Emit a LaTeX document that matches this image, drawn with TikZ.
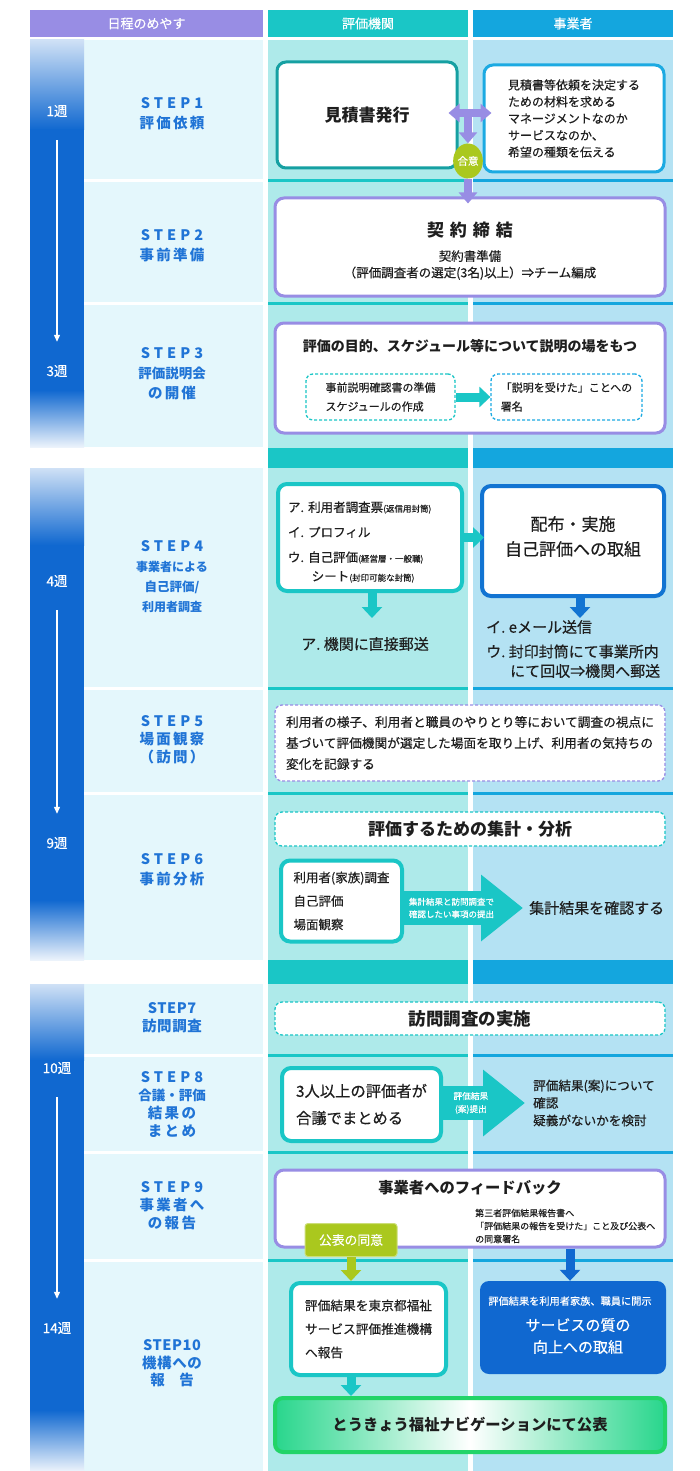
\documentclass[tikz,border=0pt]{standalone}
\usepackage{fontspec}
\setmainfont{Noto Sans CJK JP}[UprightFeatures={FakeBold=0.4}]
\newfontfamily\steplat[LetterSpace=28]{Noto Sans CJK JP}
\newfontfamily\stepsp[LetterSpace=15]{Noto Sans CJK JP}
\newfontfamily\stepmid[LetterSpace=4]{Noto Sans CJK JP}
\usetikzlibrary{arrows.meta,positioning,shapes.geometric}
\newcommand{\jpsize}[2]{\fontsize{#1}{#2}\selectfont}
\definecolor{schedpurple}{RGB}{152,141,228}
\definecolor{agencyteal}{RGB}{26,198,198}
\definecolor{bizblue}{RGB}{20,166,222}
\definecolor{labelbg}{RGB}{228,247,252}
\definecolor{agencybg}{RGB}{174,234,234}
\definecolor{bizbg}{RGB}{180,226,243}
\definecolor{weekblue}{RGB}{16,104,208}
\definecolor{stepblue}{RGB}{32,116,214}
\definecolor{quoteteal}{RGB}{22,160,162}
\definecolor{reqblue}{RGB}{28,170,226}
\definecolor{doblue}{RGB}{18,116,210}
\definecolor{consentgreen}{RGB}{170,200,30}
\definecolor{navigreen}{RGB}{34,212,104}
\definecolor{navifill}{RGB}{40,214,140}
\definecolor{textdark}{RGB}{30,30,30}

\begin{document}
\begin{tikzpicture}[x=1pt, y=-1pt,
    every node/.style={text=textdark},
    hdr/.style={fill=#1, text=white, minimum height=27pt, inner sep=0pt, font=\jpsize{13}{13}},
    wk/.style={text=white, inner sep=1pt, font=\jpsize{13.5}{13.5}},
    wkarr/.style={draw=white, line width=1.2pt, -{Triangle[length=7pt,width=6pt]}, shorten <=22pt, shorten >=22pt},
    stepl/.style={text=stepblue, align=center, inner sep=0pt, font=\jpsize{14.5}{20}\bfseries},
    box/.style={draw=#1, fill=white, line width=3pt, rounded corners=9pt, inner sep=0pt},
    dbox/.style={draw=#1, fill=white, dash pattern=on 3pt off 2pt, line width=1.3pt, rounded corners=7pt, inner sep=0pt},
    flow/.style={draw=#1, line width=9pt, -{Triangle[length=11pt,width=20pt]}},
    bigflow/.style={draw=agencyteal, line width=34pt, -{Triangle[length=42pt,width=64pt]}},
    purarr/.style={draw=schedpurple, line width=8pt, -{Triangle[length=11pt,width=18pt]}},
    onarrow/.style={text=white, align=left, inner sep=0pt}
]
\useasboundingbox (0,0) rectangle (700,1471);

% headers
\node[hdr=schedpurple, minimum width=233pt] (hsched) at (146.5,23.5) {日程のめやす};
\node[hdr=agencyteal, minimum width=200pt] (hagency) at (368,23.5) {評価機関};
\node[hdr=bizblue, minimum width=200pt] (hbiz) at (573,23.5) {事業者};

% column backgrounds
\fill[labelbg] (84,40) rectangle (263,447);
\fill[labelbg] (84,468) rectangle (263,960);
\fill[labelbg] (84,984) rectangle (263,1471);
\fill[agencybg] (268,40) rectangle (468,1471);
\fill[bizbg] (473,40) rectangle (673,1471);
\foreach \a/\b in {448/468, 960/984} {
  \fill[agencyteal] (268,\a) rectangle (468,\b);
  \fill[bizblue] (473,\a) rectangle (673,\b);
}
\foreach \y in {181,303,688,793,1055,1152,1260} {
  \fill[white] (84,\y-1.5) rectangle (263,\y+1.5);
  \fill[agencyteal] (268,\y-1.5) rectangle (468,\y+1.5);
  \fill[bizblue] (473,\y-1.5) rectangle (673,\y+1.5);
}

% week bar
\foreach \a/\b/\c/\d in {40/130/390/447, 468/545/900/960, 984/1060/1410/1471} {
  \shade[top color=weekblue!20, bottom color=weekblue] (30,\a) rectangle (84,\b);
  \fill[weekblue] (30,\b-0.5) rectangle (84,\c+0.5);
  \shade[top color=weekblue, bottom color=weekblue!8] (30,\c) rectangle (84,\d);
}
\node[wk] (wk1) at (57,111) {1週};
\node[wk] (wk3) at (57,371) {3週};
\node[wk] (wk4) at (57,581) {4週};
\node[wk] (wk9) at (57,843) {9週};
\node[wk] (wk10) at (57,1068) {10週};
\node[wk] (wk14) at (57,1328) {14週};
\draw[wkarr] (wk1) -- (wk3);
\draw[wkarr] (wk4) -- (wk9);
\draw[wkarr] (wk10) -- (wk14);

% step labels
\node[stepl] (step1) at (172,114) {{\steplat STEP1}\\{\stepsp 評価依頼}};
\node[stepl] (step2) at (172,246) {{\steplat STEP2}\\{\stepsp 事前準備}};
\node[stepl] (step3) at (172,374) {{\steplat STEP3}\\{\jpsize{13.5}{20}評価説明会}\\{\stepsp の開催}};
\node[stepl] (step4) at (172,577) {{\steplat STEP4}\\{\jpsize{12}{20}事業者による}\\{\jpsize{12.5}{20}自己評価/}\\{\jpsize{12}{20}利用者調査}};
\node[stepl, font=\jpsize{14.5}{18}\bfseries] (step5) at (172,740) {{\steplat STEP5}\\{\stepsp 場面観察}\\{\stepsp （訪問）}};
\node[stepl] (step6) at (172,870) {{\steplat STEP6}\\{\stepsp 事前分析}};
\node[stepl, font=\jpsize{14.5}{17.5}\bfseries] (step7) at (172,1017.5) {{\stepmid STEP7}\\{\stepmid 訪問調査}};
\node[stepl, font=\jpsize{14.5}{18}\bfseries] (step8) at (172,1104) {{\steplat STEP8}\\{\jpsize{13.5}{18}合議・評価}\\{\stepsp 結\,果\,の}\\{\stepsp ま\,と\,め}};
\node[stepl, font=\jpsize{14.5}{18}\bfseries] (step9) at (172,1206) {{\steplat STEP9}\\{\stepsp 事業者へ}\\{\stepsp の\,報\,告}};
\node[stepl, font=\jpsize{14.5}{17.5}\bfseries] (step10) at (172,1363.5) {{\stepmid STEP10}\\{\stepmid 機構への}\\報　告};

% STEP1
\node[box=quoteteal, minimum width=180pt, minimum height=106pt, font=\jpsize{17}{20}\bfseries] (quote) at (367,115) {見積書発行};
\node[box=reqblue, minimum width=180pt, minimum height=107pt, align=left, font=\jpsize{12}{16.8}] (request) at (574,118.5) {見積書等依頼を決定する\\ための材料を求める\\マネージメントなのか\\サービスなのか、\\希望の種類を伝える};
\coordinate (tj) at (468,113);
\draw[purarr, {Triangle[length=11pt,width=18pt]}-{Triangle[length=11pt,width=18pt]}, shorten <=-10pt, shorten >=-9pt] (quote.east |- tj) -- (request.west |- tj);
\node[ellipse, fill=consentgreen, minimum width=29pt, minimum height=35pt, inner sep=0pt, text=white, font=\jpsize{10.5}{10.5}] (agree) at (468,161) {合意};
\draw[purarr] (tj) -- (agree);

% STEP2
\node[box=schedpurple, minimum width=390pt, minimum height=98pt] (contract) at (470,247) {};
\node[font=\jpsize{17}{17}\bfseries, inner sep=0pt] (contitle) at (470,230) {契\hspace{6pt}約\hspace{6pt}締\hspace{6pt}結};
\node[font=\jpsize{12.5}{16.5}, align=center, inner sep=0pt] (contxt) at (470,265) {契約書準備\\（評価調査者の選定(3名)以上）⇒チーム編成};
\draw[purarr, shorten >=-7pt] (agree) -- (agree |- contract.north);

% STEP3
\node[box=schedpurple, minimum width=390pt, minimum height=110pt] (brief) at (470,378) {};
\node[font=\jpsize{14}{14}\bfseries, inner sep=0pt] (brieftitle) at (470,346) {評価の目的、スケジュール等について説明の場をもつ};
\node[dbox=agencyteal, minimum width=149pt, minimum height=46pt, align=left, font=\jpsize{11}{19}] (prep) at (380.5,397) {事前説明確認書の準備\\スケジュールの作成};
\node[dbox=reqblue, minimum width=151pt, minimum height=46pt, align=left, font=\jpsize{11}{19}] (sign) at (566.5,397) {「説明を受けた」ことへの\\署名};
\draw[flow=agencyteal] (prep) -- (sign);

% STEP4
\node[box=agencyteal, line width=4pt, minimum width=184pt, minimum height=107pt] (forms) at (370,537.5) {};
\node[text width=164pt, align=left, inner sep=0pt, font=\jpsize{12.5}{25}] (formstxt) at (370,542) {ア.\ 利用者調査票{\jpsize{8.5}{8.5}(返信用封筒)}\\イ.\ プロフィル\\ウ.\ 自己評価{\jpsize{8.5}{8.5}(経営層・一般職)}\\[-6pt]\hspace{1.9em}シート{\jpsize{8.5}{8.5}(封印可能な封筒)}};
\node[box=doblue, line width=4pt, minimum width=182pt, minimum height=110pt] (distrib) at (573,541) {};
\node[align=center, font=\jpsize{17}{25}, inner sep=0pt] (distribtxt) at (573,536.5) {配布・実施\\自己評価への取組};
\draw[flow=agencyteal, shorten >=-4pt] (forms.east) -- (forms.east -| distrib.west);
\node[font=\jpsize{15}{15}, inner sep=0pt] (direct) at (365,644) {ア.\ 機関に直接郵送};
\node[anchor=west, align=left, font=\jpsize{15}{19.5}, inner sep=0pt] (collect) at (486,649) {イ.\ eメール送信\\[5pt]ウ.\ 封印封筒にて事業所内\\\hspace{1.6em}にて回収⇒機関へ郵送};
\coordinate (postend) at (372,618);
\draw[flow=agencyteal] (forms.south -| postend) -- (postend);
\draw[flow=doblue] ([xshift=7pt]distrib.south) -- ([xshift=7pt]distrib.south |- postend);

% STEP5
\node[dbox=schedpurple, minimum width=390pt, minimum height=76pt, align=left, font=\jpsize{12.7}{21}] (observe) at (470,743) {利用者の様子、利用者と職員のやりとり等において調査の視点に\\基づいて評価機関が選定した場面を取り上げ、利用者の気持ちの\\変化を記録する};

% STEP6
\node[dbox=agencyteal, minimum width=390pt, minimum height=34pt, font=\jpsize{17}{17}\bfseries] (analysis) at (470,829) {評価するための集計・分析};
\node[box=agencyteal, line width=4pt, minimum width=121pt, minimum height=81pt, align=left, font=\jpsize{12.5}{23.5}] (data) at (341.5,901) {利用者(家族)調査\\自己評価\\場面観察};
\node[anchor=west, font=\jpsize{15}{15}, inner sep=0pt] (confirm) at (529,908) {集計結果を確認する};
\draw[bigflow, shorten >=6pt] (data.east |- confirm.west) -- (confirm.west)
  node[pos=0.38, onarrow, font=\jpsize{8.5}{12.5}] (submit) {集計結果と訪問調査で\\確認したい事項の提出};

% STEP7
\node[dbox=agencyteal, minimum width=390pt, minimum height=33pt, font=\jpsize{17.5}{17.5}\bfseries] (visit) at (470,1018.5) {訪問調査の実施};

% STEP8
\node[box=agencyteal, line width=4pt, minimum width=159pt, minimum height=73pt, align=left, font=\jpsize{15.3}{27}] (council) at (361.5,1104.5) {3人以上の評価者が\\合議でまとめる};
\node[anchor=west, align=left, font=\jpsize{12.6}{17.5}, inner sep=0pt] (review) at (533,1103) {評価結果(案)について\\確認\\疑義がないかを検討};
\draw[bigflow, shorten >=8pt] (council.east |- review.west) -- (review.west)
  node[pos=0.31, onarrow, align=center, font=\jpsize{8.7}{13}] (draft) {評価結果\\(案)提出};

% STEP9
\node[box=schedpurple, minimum width=390pt, minimum height=77pt] (feedback) at (470,1208.5) {};
\node[font=\jpsize{15.3}{15.3}\bfseries, inner sep=0pt] (fbtitle) at (470,1188) {事業者へのフィードバック};
\node[anchor=west, align=left, font=\jpsize{9}{13}, inner sep=0pt] (fbnote) at (475,1226) {第三者評価結果報告書へ\\「評価結果の報告を受けた」こと及び公表へ\\の同意署名};
\node[fill=consentgreen, draw=consentgreen!60!white, line width=1pt, rounded corners=3pt, minimum width=92pt, minimum height=33pt, inner sep=0pt, text=white, font=\jpsize{12.8}{12.8}] (consent) at (351,1240) {公表の同意};

% STEP10
\node[box=agencyteal, line width=4pt, minimum width=155pt, minimum height=92pt, align=left, font=\jpsize{12.7}{23.5}] (report) at (368.5,1329) {評価結果を東京都福祉\\サービス評価推進機構\\へ報告};
\node[fill=weekblue, rounded corners=9pt, minimum width=186pt, minimum height=93pt, inner sep=0pt] (disclose) at (573,1327.5) {};
\node[text=white, font=\jpsize{10.2}{10.2}, inner sep=0pt] (discnote) at (570,1301) {評価結果を利用者家族、職員に開示};
\node[text=white, align=center, font=\jpsize{15}{22}, inner sep=0pt] (quality) at (578,1336) {サービスの質の\\向上への取組};
\node[draw=navigreen, line width=4pt, rounded corners=8pt, left color=navifill, right color=navifill, middle color=white, minimum width=390pt, minimum height=54pt, font=\jpsize{15.3}{15.3}\bfseries] (navi) at (470,1425) {とうきょう福祉ナビゲーションにて公表};

\draw[flow=consentgreen] (consent) -- (consent |- report.north);
\draw[flow=weekblue] ([xshift=-3pt]disclose.north |- feedback.south) -- ([xshift=-3pt]disclose.north);
\draw[flow=agencyteal] (report.south -| consent) -- (consent |- navi.north);
\end{tikzpicture}
\end{document}
